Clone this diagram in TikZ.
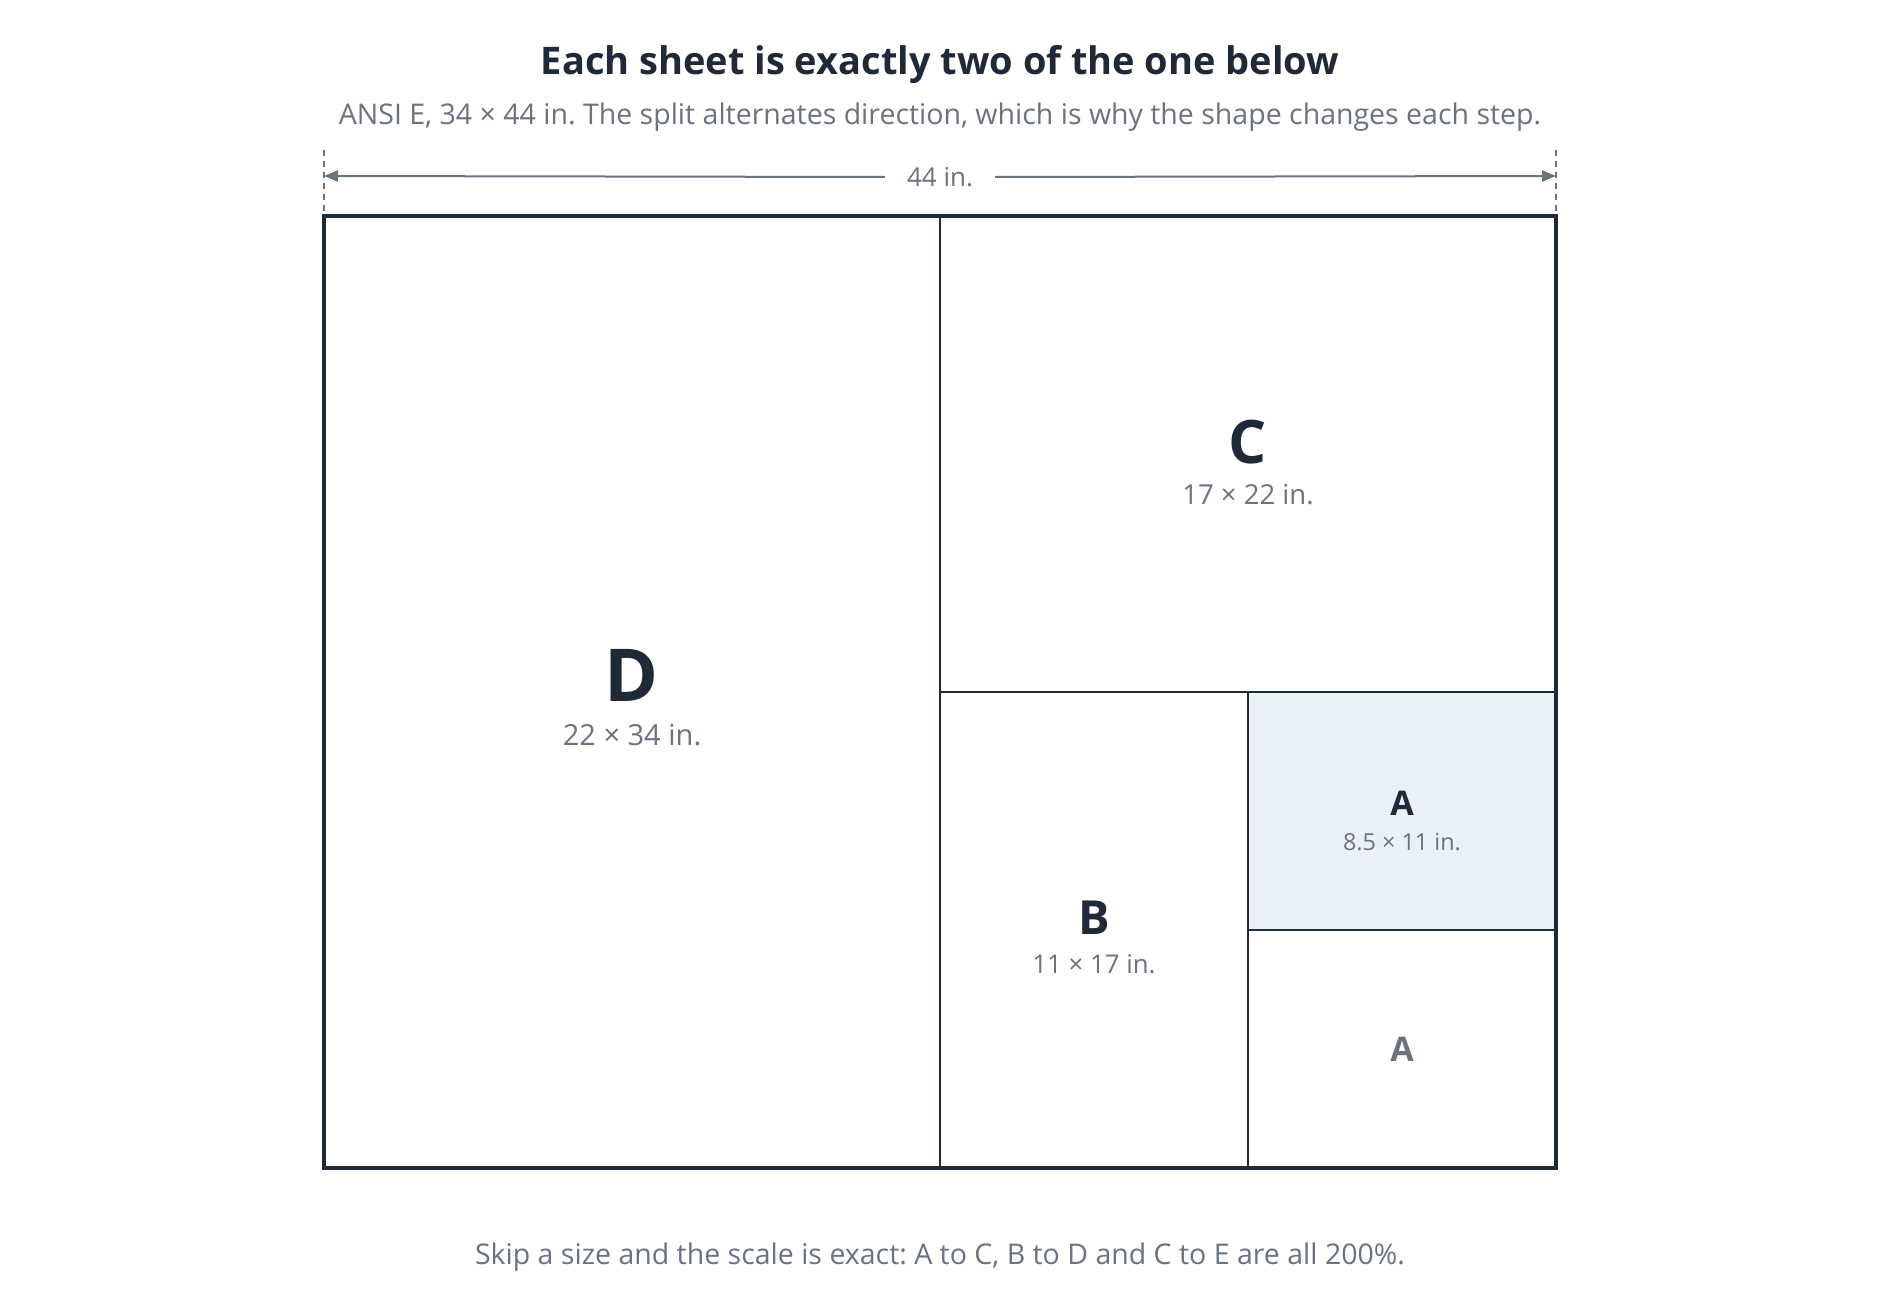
\documentclass[tikz,border=0pt]{standalone}
\usepackage{fontspec}
\setmainfont{Open Sans}
\usetikzlibrary{arrows.meta}
\definecolor{ink}{HTML}{1F2937}
\definecolor{muted}{HTML}{6B7280}
\definecolor{afill}{HTML}{E8F0F8}
\frenchspacing
\begin{document}
\begin{tikzpicture}[x=1pt,y=-1pt,
  outerline/.style={draw=ink,line width=4pt},
  innerline/.style={draw=ink,line width=2.5pt},
  dimline/.style={draw=muted,line width=2pt},
  ticks/.style={draw=muted,line width=1.5pt,dash pattern=on 6pt off 5pt},
  lbl/.style={inner sep=0pt,text=ink,font=\fontsize{#1}{#1}\selectfont\bfseries},
  dims/.style={inner sep=0pt,text=muted,font=\fontsize{#1}{#1}\selectfont},
]
\useasboundingbox (0,0) rectangle (1880,1316);
\fill[white] (0,0) rectangle (1880,1316);
% titles
\node[inner sep=0pt,text=ink,font=\fontsize{38}{42}\selectfont\bfseries] (title) at (940,65) {Each sheet is exactly two of the one below};
\node[dims=28.5] (sub) at (940,117) {ANSI E, 34 × 44 in. The split alternates direction, which is why the shape changes each step.};
% corners
\coordinate (tl) at (324,216);
\coordinate (br) at (1556,1168);
\coordinate (dtop) at (940,216);
\coordinate (dbot) at (940,1168);
\coordinate (cl) at (940,692);
\coordinate (cr) at (1556,692);
\coordinate (bt) at (1248,692);
\coordinate (bb) at (1248,1168);
\coordinate (al) at (1248,930);
\coordinate (ar) at (1556,930);
% dimension
\coordinate (tickl1) at (324,150);
\coordinate (tickr1) at (1556,150);
\coordinate (tickr2) at (1556,216);
\coordinate (dl) at (324,176);
\coordinate (dr) at (1556,176);
\node[dims=26,inner xsep=22pt] (dim) at (940,177) {44 in.};
\draw[ticks] (tickl1) -- (tl);
\draw[ticks] (tickr1) -- (tickr2);
\draw[dimline,-{Triangle[length=14pt,width=11pt]}] (dim.west) -- (dl);
\draw[dimline,-{Triangle[length=14pt,width=11pt]}] (dim.east) -- (dr);
% sheets
\fill[afill] (bt) rectangle (ar);
\draw[innerline] (dtop) -- (dbot);
\draw[innerline] (cl) -- (cr);
\draw[innerline] (bt) -- (bb);
\draw[innerline] (al) -- (ar);
\draw[outerline] (tl) rectangle (br);
% labels
\node[lbl=73] (D) at (632,675) {D};
\node[dims=29] (Dd) at (632,735) {22 × 34 in.};
\node[lbl=60] (C) at (1248,442) {C};
\node[dims=27.5] (Cd) at (1248,495) {17 × 22 in.};
\node[lbl=47] (B) at (1094,918) {B};
\node[dims=25.8] (Bd) at (1094,964) {11 × 17 in.};
\node[lbl=34] (A) at (1402,803) {A};
\node[dims=23.4] (Ad) at (1402,842) {8.5 × 11 in.};
\node[lbl=34,text=muted] (A2) at (1402,1049) {A};
% footer
\node[dims=28.5] (foot) at (940,1257) {Skip a size and the scale is exact: A to C, B to D and C to E are all 200\%.};
\end{tikzpicture}
\end{document}
